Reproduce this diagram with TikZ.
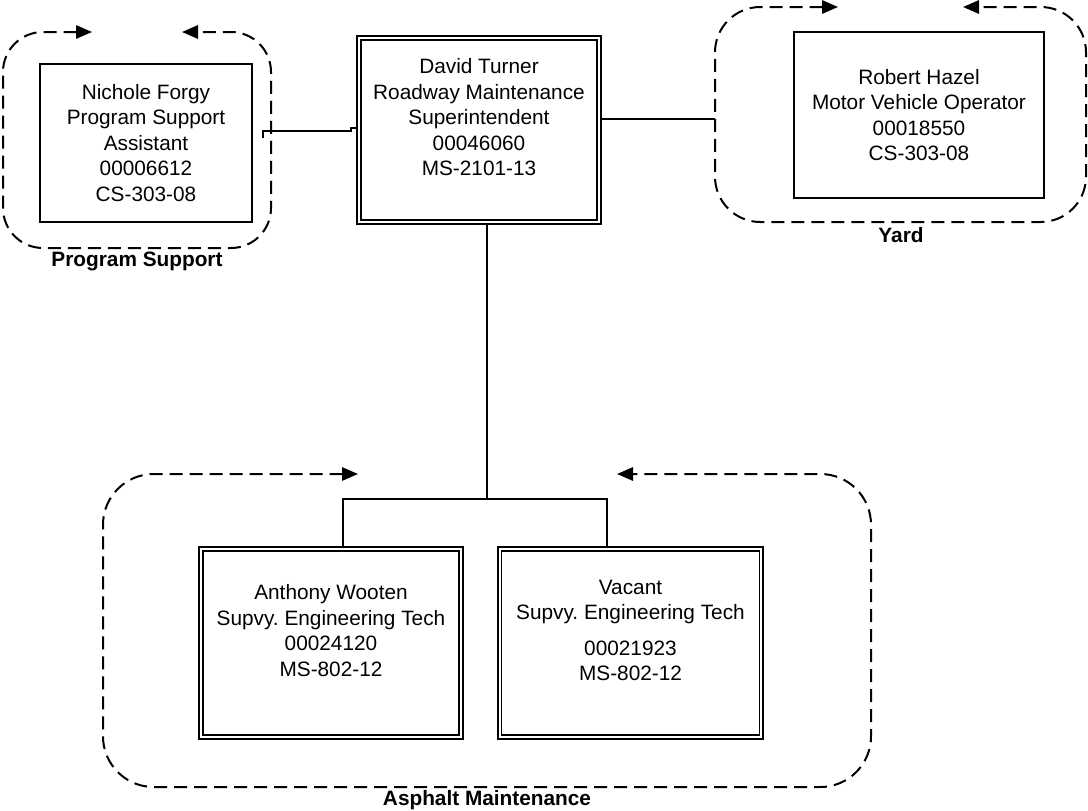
\documentclass[tikz,border=0pt]{standalone}
\usepackage{fontspec}
\setmainfont{Liberation Sans}
\usetikzlibrary{arrows.meta}
\frenchspacing

\tikzset{
  post/.style={draw, line width=1.5pt, align=center, inner sep=0pt,
    font=\fontsize{15.6pt}{19.1pt}\selectfont},
  postdbl/.style={post, line width=1.1pt, double, double distance=1.6pt},
  link/.style={line width=1.5pt},
  unitframe/.style={line width=1.5pt, dash pattern=on 9.75pt off 5.25pt,
    {Triangle[length=12pt,width=10pt]}-{Triangle[length=12pt,width=10pt]}},
  unitname/.style={inner sep=0pt, font=\fontsize{15.6pt}{19.1pt}\selectfont\bfseries}
}

\begin{document}
\begin{tikzpicture}[x=0.75pt, y=-0.75pt]
    \useasboundingbox (0,0) rectangle (1088,810);

    % Superintendent
    \node[postdbl, minimum width=180pt, minimum height=138pt] (david) at (479,130)
      {David Turner\\Roadway Maintenance\\Superintendent\\00046060\\MS-2101-13\\~};

    % Program support
    \node[post, minimum width=159pt, minimum height=119pt] (nichole) at (146,143)
      {Nichole Forgy\\Program Support\\Assistant\\00006612\\CS-303-08};
    \draw[unitframe, rounded corners=30pt] (92,32) -- (3,32) -- (3,248) -- (271,248) -- (271,32) -- (182,32);
    \node[unitname] (ps-label) at (137,261) {Program Support};

    % Yard
    \node[post, minimum width=188pt, minimum height=125pt] (robert) at (919,115)
      {Robert Hazel\\Motor Vehicle Operator\\00018550\\CS-303-08};
    \draw[unitframe, rounded corners=34pt] (838,7) -- (715,7) -- (715,222) -- (1086,222) -- (1086,7) -- (963,7);
    \node[unitname] (yard-label) at (901,235) {Yard};

    % Asphalt maintenance
    \node[postdbl, minimum width=195pt, minimum height=141pt] (anthony) at (331,643)
      {Anthony Wooten\\Supvy. Engineering Tech\\00024120\\MS-802-12\\~};
    \node[postdbl, minimum width=196pt, minimum height=141pt] (vacant) at (630.5,643)
      {Vacant\\Supvy. Engineering Tech\\[7.5pt]00021923\\MS-802-12\\~};
    \draw[unitframe, rounded corners=38pt] (358,474) -- (103,474) -- (103,787) -- (871,787) -- (871,474) -- (617,474);
    \node[unitname] (am-label) at (487,800) {Asphalt Maintenance};

    % Connectors
    \coordinate (ps-tick) at (263,138);
    \coordinate (yard-in) at (715,119);
    \coordinate (bus) at (487,499);
    \draw[link] (ps-tick) -- ++(0,-7) -- ++(88,0) -- ++(0,-3) -- (david.west |- 0,128);
    \draw[link] (david.east |- yard-in) -- (yard-in);
    \draw[link] (bus |- david.south) -- (bus);
    \draw[link] ([xshift=9pt]anthony.north) |- (bus) -| ([xshift=-17.6pt]vacant.north);
\end{tikzpicture}
\end{document}
